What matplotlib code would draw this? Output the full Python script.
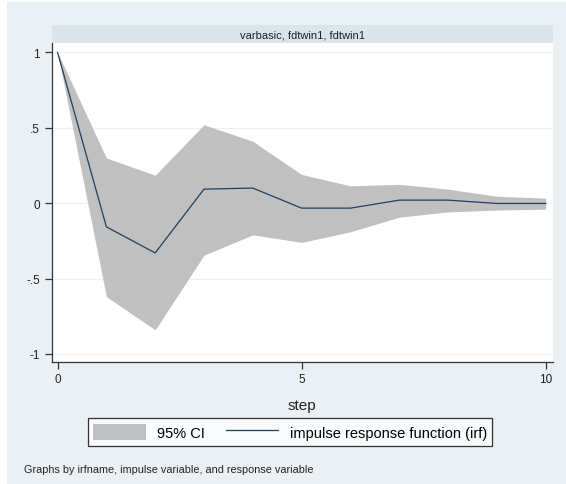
import matplotlib
matplotlib.use("Agg")
import matplotlib.pyplot as plt
from matplotlib.patches import Rectangle, Patch
from matplotlib.lines import Line2D

plt.rcParams['font.family'] = ['Liberation Sans', 'DejaVu Sans']

# irf data
steps = [0, 1, 2, 3, 4, 5, 6, 7, 8, 9, 10]
irf = [1.0, -0.157, -0.33, 0.093, 0.10, -0.033, -0.033, 0.02, 0.02, -0.002, -0.002]
ci_upper = [1.0, 0.30, 0.185, 0.52, 0.41, 0.19, 0.115, 0.125, 0.093, 0.046, 0.033]
ci_lower = [1.0, -0.62, -0.84, -0.345, -0.21, -0.26, -0.19, -0.093, -0.058, -0.046, -0.04]

y_ticks = [-1, -0.5, 0, 0.5, 1]
y_labels = ["-1", "-.5", "0", ".5", "1"]
x_ticks = [0, 5, 10]

panel_title = "varbasic, fdtwin1, fdtwin1"
note = "Graphs by irfname, impulse variable, and response variable"

bg = "#eaf0f3"
strip = "#d9e5eb"
band = "#c0c0c0"
navy = "#1f3f5f"

fig = plt.figure(figsize=(5.66, 4.85), dpi=100)
fig.patch.set_facecolor("white")
W, H = 566, 485

def fx(px):
    return px / W

def fy(py):
    return 1 - py / H

# outer background
fig.patches.append(Rectangle((fx(7), 0), 1 - fx(7), fy(3), transform=fig.transFigure,
                             facecolor=bg, edgecolor="none", zorder=-2))

ax = fig.add_axes([fx(51.7), fy(362.5), fx(553) - fx(51.7), fy(44) - fy(362.5)])
ax.set_zorder(2)
ax.set_facecolor("white")

# title strip
fig.patches.append(Rectangle((fx(51.7), fy(44)), fx(553) - fx(51.7), fy(26) - fy(44),
                             transform=fig.transFigure, facecolor=strip, edgecolor="none", zorder=-1))
fig.text((fx(51.7) + fx(553)) / 2, fy(35), panel_title, ha="center", va="center", fontsize=8, color="#222222")

ax.fill_between(steps, ci_lower, ci_upper, color=band, linewidth=0, zorder=2)
ax.plot(steps, irf, color=navy, linewidth=0.9, zorder=3)

ax.set_xlim(-0.12, 10.15)
ax.set_ylim(-1.05, 1.062)
ax.set_yticks(y_ticks)
ax.set_yticklabels(y_labels)
ax.set_xticks(x_ticks)
ax.grid(axis="y", color="#eaf2f3", linewidth=0.8, zorder=1)
ax.set_axisbelow(True)

for s in ["top", "right"]:
    ax.spines[s].set_visible(False)
for s in ["left", "bottom"]:
    ax.spines[s].set_color("#333333")
    ax.spines[s].set_linewidth(0.9)
ax.tick_params(axis="both", direction="out", length=5, width=0.9, color="#333333",
               labelsize=8.5, labelcolor="#222222")
ax.set_xlabel("step", fontsize=11, color="#222222", labelpad=9)

handles = [Patch(facecolor=band, edgecolor="none"), Line2D([], [], color=navy, linewidth=0.9)]
labels = ["95% CI", "impulse response function (irf)"]
leg = fig.legend(handles, labels, loc="center", bbox_to_anchor=(fx(290), fy(433)), ncol=2,
                 fontsize=10.5, frameon=True, fancybox=False, edgecolor="black",
                 handlelength=3.6, handleheight=1.4, columnspacing=1.4, borderpad=0.35,
                 handletextpad=0.8)
leg.get_frame().set_linewidth(0.9)
leg.get_frame().set_facecolor("white")

fig.text(fx(24), fy(470), note, ha="left", va="center", fontsize=7.8, color="#222222")

fig.savefig("out.png", dpi=100)
